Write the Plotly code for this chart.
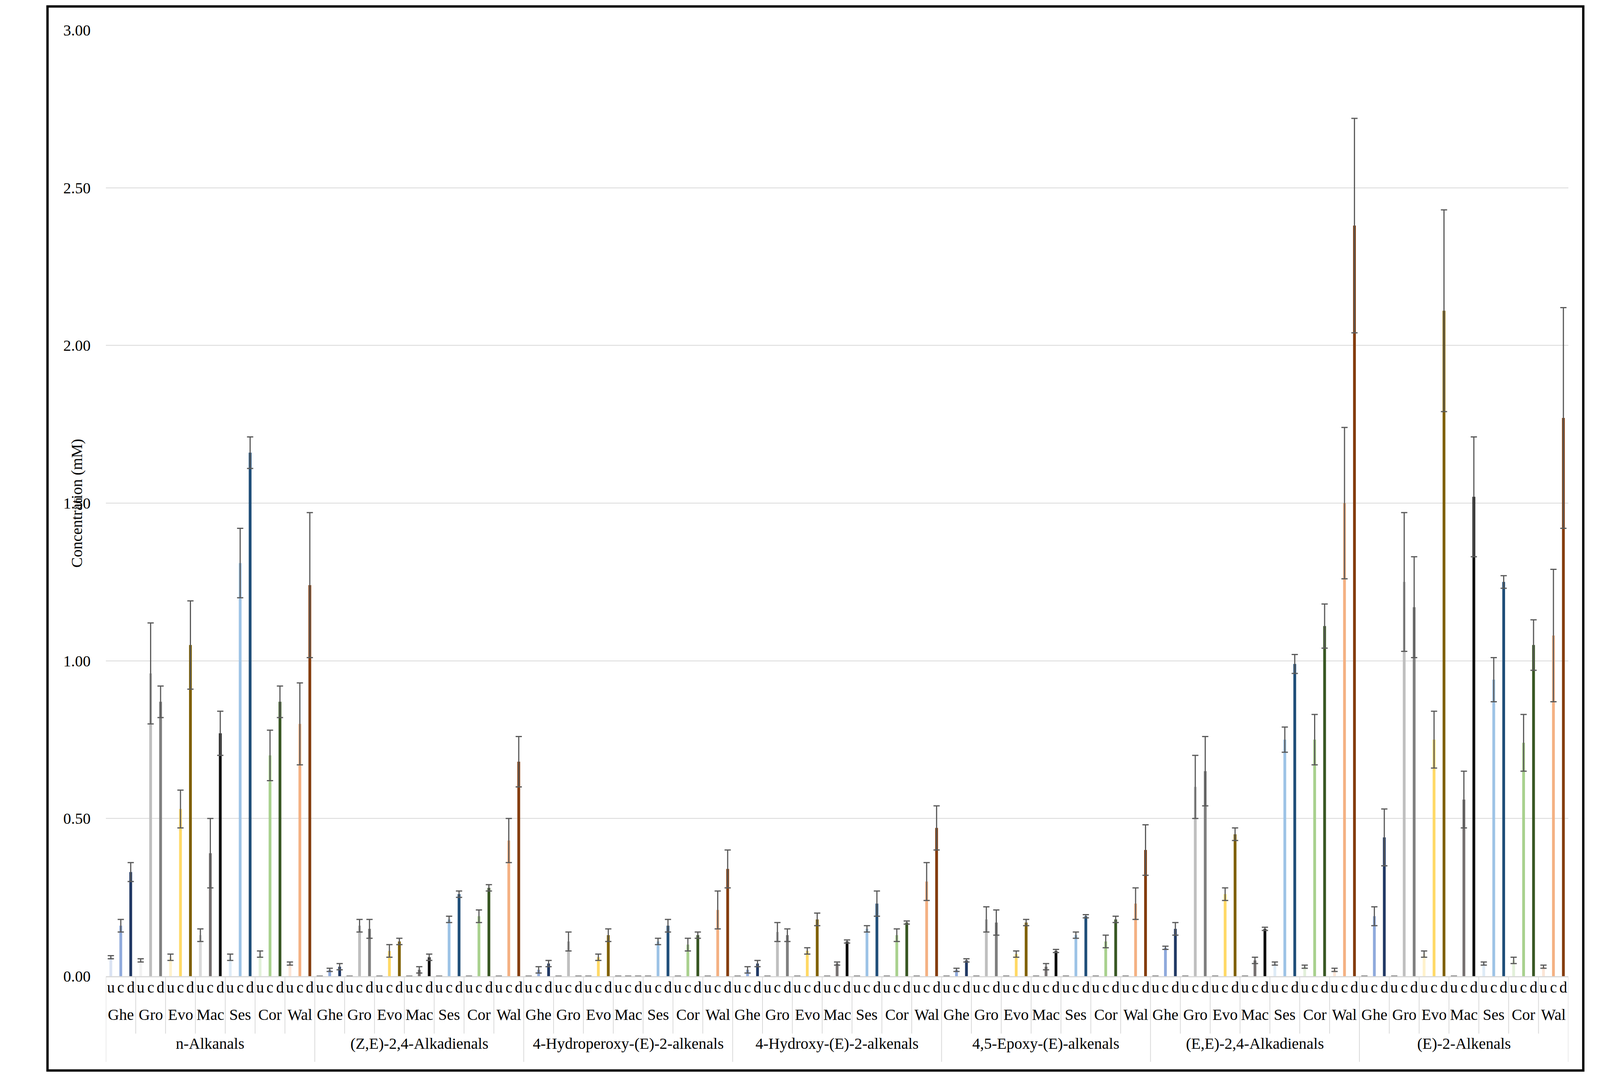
import plotly.graph_objects as go

classes = ["n-Alkanals", "(Z,E)-2,4-Alkadienals", "4-Hydroperoxy-(E)-2-alkenals",
           "4-Hydroxy-(E)-2-alkenals", "4,5-Epoxy-(E)-alkenals", "(E,E)-2,4-Alkadienals", "(E)-2-Alkenals"]
oils = ["Ghe", "Gro", "Evo", "Mac", "Ses", "Cor", "Wal"]
samples = ["u", "c", "d"]

u_vals = [
    [0.06, 0.05, 0.06, 0.13, 0.06, 0.07, 0.04],
    [0, 0, 0, 0, 0, 0, 0],
    [0, 0, 0, 0, 0, 0, 0],
    [0, 0, 0, 0, 0, 0, 0],
    [0, 0, 0, 0, 0, 0, 0],
    [0, 0, 0, 0, 0.04, 0.03, 0.02],
    [0, 0, 0.07, 0, 0.04, 0.05, 0.03],
]
c_vals = [
    [0.16, 0.96, 0.53, 0.39, 1.31, 0.70, 0.80],
    [0.02, 0.16, 0.08, 0.02, 0.18, 0.19, 0.43],
    [0.02, 0.11, 0.06, 0, 0.11, 0.10, 0.21],
    [0.02, 0.14, 0.08, 0.04, 0.15, 0.13, 0.30],
    [0.02, 0.18, 0.07, 0.03, 0.13, 0.11, 0.23],
    [0.09, 0.60, 0.26, 0.05, 0.75, 0.75, 1.50],
    [0.19, 1.25, 0.75, 0.56, 0.94, 0.74, 1.08],
]
d_vals = [
    [0.33, 0.87, 1.05, 0.77, 1.66, 0.87, 1.24],
    [0.03, 0.15, 0.11, 0.06, 0.26, 0.28, 0.68],
    [0.04, 0, 0.13, 0, 0.16, 0.13, 0.34],
    [0.04, 0.13, 0.18, 0.11, 0.23, 0.17, 0.47],
    [0.05, 0.17, 0.17, 0.08, 0.19, 0.18, 0.40],
    [0.15, 0.65, 0.45, 0.15, 0.99, 1.11, 2.38],
    [0.44, 1.17, 2.11, 1.52, 1.25, 1.05, 1.77],
]
u_err = [
    [0.005, 0.005, 0.01, 0.02, 0.01, 0.01, 0.005],
    [0] * 7, [0] * 7, [0] * 7, [0] * 7,
    [0, 0, 0, 0, 0.005, 0.005, 0.005],
    [0, 0, 0.01, 0, 0.005, 0.01, 0.005],
]
c_err = [
    [0.02, 0.16, 0.06, 0.11, 0.11, 0.08, 0.13],
    [0.005, 0.02, 0.02, 0.01, 0.01, 0.02, 0.07],
    [0.01, 0.03, 0.01, 0, 0.01, 0.02, 0.06],
    [0.01, 0.03, 0.01, 0.005, 0.01, 0.02, 0.06],
    [0.005, 0.04, 0.01, 0.01, 0.01, 0.02, 0.05],
    [0.005, 0.10, 0.02, 0.01, 0.04, 0.08, 0.24],
    [0.03, 0.22, 0.09, 0.09, 0.07, 0.09, 0.21],
]
d_err = [
    [0.03, 0.05, 0.14, 0.07, 0.05, 0.05, 0.23],
    [0.01, 0.03, 0.01, 0.01, 0.01, 0.01, 0.08],
    [0.01, 0, 0.02, 0, 0.02, 0.01, 0.06],
    [0.01, 0.02, 0.02, 0.005, 0.04, 0.005, 0.07],
    [0.005, 0.04, 0.01, 0.005, 0.005, 0.01, 0.08],
    [0.02, 0.11, 0.02, 0.005, 0.03, 0.07, 0.34],
    [0.09, 0.16, 0.32, 0.19, 0.02, 0.08, 0.35],
]
colors = {
    "Ghe": ["#dae3f3", "#8faadc", "#203864"],
    "Gro": ["#f2f2f2", "#bfbfbf", "#7f7f7f"],
    "Evo": ["#fff2cc", "#ffd966", "#7f6000"],
    "Mac": ["#d9d9d9", "#767171", "#0d0d0d"],
    "Ses": ["#deebf7", "#9dc3e6", "#1f4e79"],
    "Cor": ["#e2f0d9", "#a9d18e", "#385723"],
    "Wal": ["#fbe5d6", "#f4b183", "#843c0c"],
}

FONT = "Liberation Serif"
FS = 40
nO, nS = len(oils), len(samples)
per_class = nO * nS
fig = go.Figure()
vals_all = [u_vals, c_vals, d_vals]
errs_all = [u_err, c_err, d_err]
for j, oil in enumerate(oils):
    for k, s in enumerate(samples):
        xs = [i * per_class + j * nS + k for i in range(len(classes))]
        ys = [vals_all[k][i][j] for i in range(len(classes))]
        es = [errs_all[k][i][j] if vals_all[k][i][j] > 0 else 0 for i in range(len(classes))]
        fig.add_trace(go.Bar(
            x=xs, y=ys, width=0.28, marker_color=colors[oil][k], marker_line_width=0,
            error_y=dict(type="data", array=es, visible=True, color="#595959", thickness=3, width=8),
            showlegend=False, name=f"{oil} {s}"))

shapes = []
annotations = []
Y_UCD, Y_OIL, Y_CLS = -0.0217, -0.0509, -0.0812
for i, cl in enumerate(classes):
    base = i * per_class
    annotations.append(dict(x=base + per_class / 2 - 0.5, y=Y_CLS, xref="x", yref="paper", text=cl,
                            showarrow=False, font=dict(family=FONT, size=FS, color="#000")))
    shapes.append(dict(type="line", xref="x", yref="paper", x0=base - 0.5, x1=base - 0.5, y0=0, y1=-0.0906,
                       line=dict(color="#d9d9d9", width=2)))
    for j, oil in enumerate(oils):
        b = base + j * nS
        annotations.append(dict(x=b + 1, y=Y_OIL, xref="x", yref="paper", text=oil, showarrow=False,
                                font=dict(family=FONT, size=FS, color="#000")))
        if j > 0:
            shapes.append(dict(type="line", xref="x", yref="paper", x0=b - 0.5, x1=b - 0.5, y0=0, y1=-0.0607,
                               line=dict(color="#d9d9d9", width=2)))
        for k, s in enumerate(samples):
            annotations.append(dict(x=b + k, y=Y_UCD, xref="x", yref="paper", text=s, showarrow=False,
                                    font=dict(family=FONT, size=FS, color="#000")))
end = len(classes) * per_class - 0.5
shapes.append(dict(type="line", xref="x", yref="paper", x0=end, x1=end, y0=0, y1=-0.0906,
                   line=dict(color="#d9d9d9", width=2)))
shapes.append(dict(type="rect", xref="paper", yref="paper", x0=-0.0399, x1=1.0102, y0=-0.0997, y1=1.025,
                   line=dict(color="#000", width=6)))
annotations.append(dict(x=-0.0265, y=0.5, xref="paper", yref="paper", text="Concentration (mM)",
                        textangle=-90, showarrow=False, font=dict(family=FONT, size=FS, color="#000")))

fig.update_layout(
    autosize=True, paper_bgcolor="white", plot_bgcolor="white",
    margin=dict(l=263, r=73, t=69, b=286), barmode="overlay",
    shapes=shapes, annotations=annotations,
    xaxis=dict(range=[-0.5, end], showticklabels=False, showgrid=False, zeroline=False,
               showline=True, linecolor="#d9d9d9", linewidth=3, ticks=""),
    yaxis=dict(range=[0, 3.0], dtick=0.5, tickformat=".2f", showgrid=True, gridcolor="#d9d9d9", gridwidth=2,
               zeroline=False, showline=False, ticks="outside", ticklen=30, tickcolor="rgba(0,0,0,0)",
               tickfont=dict(family=FONT, size=FS, color="#000")),
)
fig.write_html("out.html", config={"responsive": True})
